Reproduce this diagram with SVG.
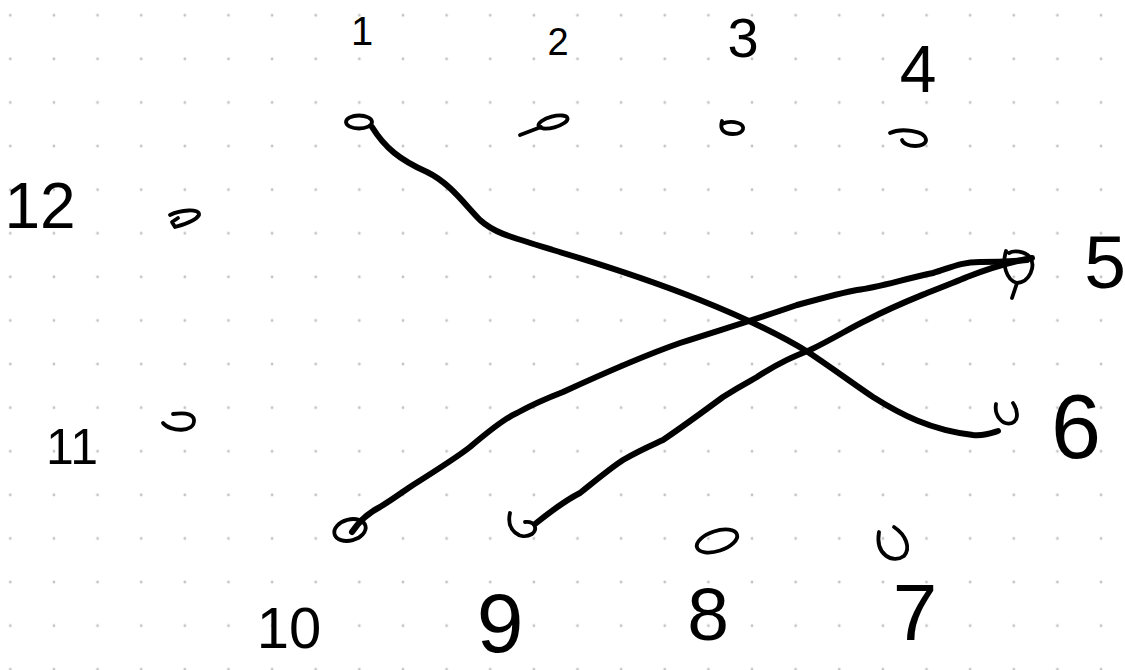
<svg xmlns="http://www.w3.org/2000/svg" width="1125" height="670" viewBox="0 0 1125 670">
  <style>
    .lbl { font-family: "Liberation Sans", Arial, sans-serif; fill: #000; text-anchor: middle; }
    .nd { fill: none; stroke: #000; stroke-width: 3.8; stroke-linecap: round; stroke-linejoin: round; }
    .edge { fill: none; stroke: #000; stroke-width: 6; stroke-linecap: round; stroke-linejoin: round; }
  </style>
  <defs>
    <pattern id="dots" patternUnits="userSpaceOnUse" x="-11.5" y="-6.5" width="43.63" height="43.6">
      <circle cx="21.8" cy="21.8" r="1.4" fill="#c2c2c2"/>
    </pattern>
  </defs>
  <rect width="1125" height="670" fill="#fff"/>
  <rect width="1125" height="670" fill="url(#dots)"/>

  <g id="connectors">
    <path class="edge" d="M 372,127 C 385,148 400,160 427,172 C 450,183 465,205 480,220 C 493,232 507,236 553,250 C 600,264 650,280 700,300 C 740,316 780,335 808,352 C 835,370 855,385 873,397 C 900,414 930,430 973,435 C 985,436 992,433 998,431"/>
    <path class="edge" d="M 352,532 C 360,520 370,512 380,507 C 395,498 405,490 413,485 C 440,468 460,455 470,447 C 490,430 505,418 517,413 C 535,403 550,397 563,392 C 600,375 640,357 680,343 C 720,330 760,318 797,305 C 830,296 845,292 857,290 C 880,287 900,280 933,273 C 950,268 960,262 980,262 C 1000,262 1015,261 1027,260"/>
    <path class="edge" d="M 535,524 C 555,508 570,498 580,493 C 600,477 612,467 623,460 C 640,450 650,446 663,440 C 685,425 700,414 723,397 C 740,386 750,381 757,377 C 780,362 795,356 810,350 C 835,338 850,328 867,320 C 890,308 910,300 927,293 C 950,284 960,280 967,277 C 985,270 1010,262 1032,258"/>
  </g>

  <g id="node1">
    <ellipse class="nd" cx="359" cy="122" rx="13" ry="6.5"/>
    <text class="lbl" x="362" y="45" font-size="40">1</text>
  </g>
  <g id="node2">
    <ellipse class="nd" cx="553" cy="122" rx="15" ry="5.5" transform="rotate(-15 553 122)"/>
    <path class="nd" d="M 541,127 L 520,135"/>
    <text class="lbl" x="558" y="55" font-size="38">2</text>
  </g>
  <g id="node3">
    <path class="nd" d="M 722,121 C 720,128 722,134 733,134 C 745,134 746,125 738,123 C 732,121 726,122 722,124"/>
    <text class="lbl" x="743" y="57" font-size="56">3</text>
  </g>
  <g id="node4">
    <path class="nd" d="M 890,133 C 900,128 925,130 926,140 C 926,148 905,148 902,140"/>
    <text class="lbl" x="918" y="92" font-size="66">4</text>
  </g>
  <g id="node5">
    <path class="nd" d="M 1006,251 C 1002,264 1006,280 1017,283 C 1030,282 1036,266 1030,257 C 1024,251 1014,250 1009,253 M 1017,283 L 1012,298"/>
    <text class="lbl" x="1105" y="288" font-size="75">5</text>
  </g>
  <g id="node6">
    <path class="nd" d="M 996,404 C 994,416 1003,426 1012,423 C 1019,420 1018,410 1013,403"/>
    <text class="lbl" x="1076" y="458" font-size="90">6</text>
  </g>
  <g id="node7">
    <path class="nd" d="M 879,532 C 875,555 893,564 904,556 C 911,548 906,535 894,527"/>
    <text class="lbl" x="915" y="640" font-size="80">7</text>
  </g>
  <g id="node8">
    <ellipse class="nd" cx="717" cy="541" rx="21" ry="10" transform="rotate(-18 717 541)"/>
    <text class="lbl" x="708" y="640" font-size="75">8</text>
  </g>
  <g id="node9">
    <path class="nd" d="M 510,513 C 506,530 520,541 532,534 C 538,529 535,521 525,522"/>
    <text class="lbl" x="500" y="652" font-size="84">9</text>
  </g>
  <g id="node10">
    <ellipse class="nd" cx="350" cy="530" rx="16" ry="10.5" transform="rotate(-15 350 530)"/>
    <text class="lbl" x="289" y="648" font-size="58">10</text>
  </g>
  <g id="node11">
    <path class="nd" d="M 163,423 C 170,432 195,433 194,420 C 193,412 180,413 173,414"/>
    <text class="lbl" x="72" y="464" font-size="50">11</text>
  </g>
  <g id="node12">
    <path class="nd" d="M 170,215 C 180,210 200,208 199,215 C 195,222 182,225 175,227 L 172,222 L 178,218"/>
    <text class="lbl" x="40" y="228" font-size="64">12</text>
  </g>
</svg>
